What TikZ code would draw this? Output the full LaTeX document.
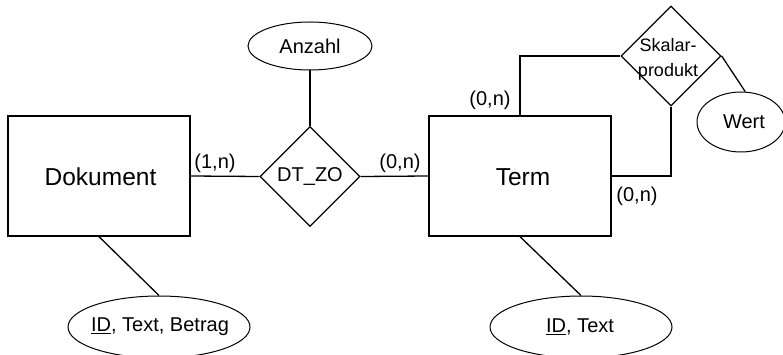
\documentclass[tikz,border=0pt]{standalone}
\usepackage{fontspec}
\setmainfont{Liberation Sans}
\usetikzlibrary{shapes.geometric}
\begin{document}
\begin{tikzpicture}[x=1pt,y=-1pt,
  line width=1.3pt,
  entity/.style={draw, rectangle, minimum width=182pt, minimum height=120pt, inner sep=0pt},
  rel/.style={draw, diamond, minimum width=100pt, minimum height=100pt, inner sep=0pt, aspect=1},
  attr/.style={draw, ellipse, line width=1pt, inner sep=0pt},
  big/.style={font=\fontsize{24.5}{28}\selectfont, inner sep=0pt},
  txt/.style={font=\fontsize{20}{24}\selectfont, inner sep=0pt},
  small/.style={font=\fontsize{18}{25}\selectfont, inner sep=0pt, align=center},
  card/.style={font=\fontsize{20}{24}\selectfont, inner sep=0pt}]
\useasboundingbox (0,0) rectangle (783,355);

% entities
\node[entity] (dok) at (99,176) {};
\node[big] (doktxt) at (100.5,177) {Dokument};
\node[entity] (term) at (520,176) {};
\node[big] (termtxt) at (523,177) {Term};

% relationships
\node[rel] (dz) at (310,176.5) {};
\node[txt] (dztxt) at (310,177) {DT\_ZO};
\node[rel] (sk) at (671,56) {};
\node[small] (sktxt) at (668,59) {Skalar-\\produkt};

% attributes
\node[attr, minimum width=124pt, minimum height=48pt] (anz) at (310,46) {};
\node[txt] (anztxt) at (310,46) {Anzahl};
\node[attr, minimum width=88pt, minimum height=60pt] (wert) at (741,122) {};
\node[txt] (werttxt) at (744,122) {Wert};
\node[attr, minimum width=182pt, minimum height=62pt] (e1) at (159,327) {};
\node[txt] (e1txt) at (160,327) {\underline{ID}, Text, Betrag};
\node[attr, minimum width=182pt, minimum height=62pt] (e2) at (581,327) {};
\node[txt] (e2txt) at (580,327) {\underline{ID}, Text};

% connectors
\draw (dok.east) -- (dz.west);
\draw (dz.east) -- (term.west);
\draw (anz.south) -- (dz.north);
\draw (term.north) |- (sk.west);
\draw (sk.south) |- (term.east);
\draw (sk.east) -- (wert.82);
\draw (dok.south) -- (e1.north);
\draw (term.south) -- (e2.north);

% cardinalities
\node[card] (c1) at (215,163) {(1,n)};
\node[card] (c2) at (400,163) {(0,n)};
\node[card] (c3) at (490,100) {(0,n)};
\node[card] (c4) at (637,196) {(0,n)};
\end{tikzpicture}
\end{document}
